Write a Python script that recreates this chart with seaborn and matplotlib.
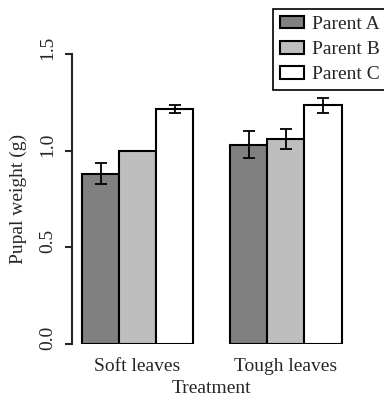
import numpy as np
import pandas as pd
import seaborn as sns
import matplotlib.pyplot as plt
from matplotlib.patches import Patch
from matplotlib.transforms import ScaledTranslation

treatments = ['Soft leaves', 'Tough leaves']
parents = ['Parent A', 'Parent B', 'Parent C']
soft_mean = [0.88, 1.00, 1.215]
soft_se = [0.055, np.nan, 0.022]
tough_mean = [1.03, 1.06, 1.235]
tough_se = [0.07, 0.05, 0.038]
bar_colors = ['#808080', '#bebebe', '#ffffff']

df = pd.DataFrame({
    'treatment': np.repeat(treatments, 3),
    'parent': parents * 2,
    'weight': soft_mean + tough_mean,
    'se': soft_se + tough_se,
})

sns.set_style('ticks')
plt.rcParams['font.family'] = ['Liberation Serif', 'DejaVu Serif']
plt.rcParams['font.size'] = 14

fig = plt.figure(figsize=(3.84, 3.97), dpi=100)
ax = fig.add_axes([0.1865, 0.1335, 0.730, 0.7305])

sns.barplot(data=df, x='treatment', y='weight', hue='parent', hue_order=parents,
            palette=bar_colors, saturation=1, width=0.75, errorbar=None,
            edgecolor='black', linewidth=1.5, legend=False, ax=ax)

# error bars on top of each bar (one container per parent)
for cont, parent in zip(ax.containers, parents):
    sub = df[df['parent'] == parent]
    for bar, se in zip(cont, sub['se']):
        if np.isnan(se):
            continue
        x = bar.get_x() + bar.get_width() / 2
        ax.errorbar(x, bar.get_height(), yerr=se, color='black', lw=1.3,
                    capsize=4.3, capthick=1.3, zorder=5)

ax.set_xlim(-0.445, 1.445)
ax.set_ylim(0, 1.5)
ax.set_yticks([0, 0.5, 1.0, 1.5])
ax.set_yticklabels(['0.0', '0.5', '1.0', '1.5'], rotation=90, va='center')
ax.tick_params(axis='y', length=5, width=1.5, pad=6, labelsize=14)
ax.tick_params(axis='x', length=0, pad=10, labelsize=14)
ax.spines['left'].set_linewidth(1.5)
sns.despine(ax=ax, bottom=True)

# R-style labels sit a little above their ticks
shift = ScaledTranslation(0, 6 / 100, fig.dpi_scale_trans)
for lab in ax.get_yticklabels():
    lab.set_transform(lab.get_transform() + shift)

ax.set_xlabel('Treatment', fontsize=14, labelpad=4)
ax.set_ylabel('Pupal weight (g)', fontsize=14, labelpad=9)

handles = [Patch(facecolor=c, edgecolor='black', linewidth=1.5) for c in bar_colors]
leg = fig.legend(handles, parents, loc='upper left',
                 bbox_to_anchor=(273 / 384, 1 - 9 / 397), fontsize=14,
                 fancybox=False, framealpha=1, borderaxespad=0,
                 handlelength=1.24, handleheight=0.62, handletextpad=0.45,
                 labelspacing=0.42, borderpad=0.34)
leg.get_frame().set_edgecolor('black')
leg.get_frame().set_linewidth(1.2)

fig.savefig('out.png', dpi=100)
